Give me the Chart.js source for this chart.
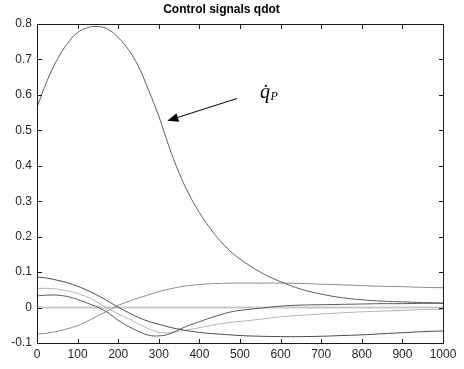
<!DOCTYPE html>
<html>
<head>
<meta charset="utf-8">
<script src="https://cdn.jsdelivr.net/npm/chart.js@4/dist/chart.umd.min.js"></script>
<style>
  html, body { margin: 0; padding: 0; background: #fff; }
  #wrap { width: 464px; height: 369px; }
</style>
</head>
<body>
<div id="wrap"><canvas id="chart"></canvas></div>
<script>
// sample times (x axis)
const tVals = [0, 25, 50, 75, 100, 125, 150, 175, 200, 225, 250, 275, 300, 325, 350, 375, 400, 425, 450, 475, 500,
  550, 600, 650, 700, 750, 800, 850, 900, 950, 1000];

// control signals
const qdotP = [0.565, 0.64, 0.70, 0.745, 0.776, 0.790, 0.793, 0.785, 0.762, 0.728, 0.68, 0.613, 0.54, 0.455, 0.38, 0.318, 0.268, 0.226, 0.19, 0.16, 0.137,
  0.10, 0.073, 0.052, 0.038, 0.028, 0.022, 0.018, 0.016, 0.014, 0.013];
const qdot1 = [0.086, 0.083, 0.077, 0.07, 0.06, 0.048, 0.034, 0.018, 0.001, -0.014, -0.028, -0.039, -0.047, -0.055, -0.061, -0.066, -0.07, -0.073, -0.075, -0.077, -0.079,
  -0.081, -0.082, -0.082, -0.081, -0.079, -0.077, -0.074, -0.071, -0.068, -0.066];
const qdot2 = [0.054, 0.054, 0.052, 0.047, 0.04, 0.029, 0.014, -0.003, -0.018, -0.031, -0.046, -0.06, -0.07, -0.071, -0.067, -0.062, -0.057, -0.051, -0.046, -0.042, -0.039,
  -0.033, -0.026, -0.022, -0.018, -0.015, -0.012, -0.01, -0.008, -0.006, -0.005];
const qdot3 = [0.033, 0.035, 0.035, 0.031, 0.023, 0.012, 0.001, -0.015, -0.036, -0.053, -0.067, -0.078, -0.08, -0.075, -0.062, -0.05, -0.04, -0.03, -0.021, -0.013, -0.008,
  -0.002, 0.004, 0.007, 0.008, 0.009, 0.01, 0.011, 0.011, 0.012, 0.012];
const qdot4 = [-0.075, -0.072, -0.067, -0.06, -0.051, -0.038, -0.023, -0.009, 0.006, 0.017, 0.027, 0.036, 0.045, 0.052, 0.058, 0.062, 0.065, 0.067, 0.068, 0.069, 0.069,
  0.069, 0.069, 0.068, 0.066, 0.064, 0.062, 0.06, 0.059, 0.057, 0.056];
const qdot5 = [0, 0, 0, 0, 0, 0, 0, 0, 0, 0, 0, 0, 0, 0, 0, 0, 0, 0, 0, 0, 0,
  0, 0, 0, 0, 0, 0, 0, 0, 0, 0];

const xTicks = [0, 100, 200, 300, 400, 500, 600, 700, 800, 900, 1000];
const yTicks = [-0.1, 0, 0.1, 0.2, 0.3, 0.4, 0.5, 0.6, 0.7, 0.8];

const toPts = ys => tVals.map((t, i) => ({ x: t, y: ys[i] }));

const line = (data, color, width) => ({
  data: toPts(data),
  borderColor: color,
  borderWidth: width || 1,
  pointRadius: 0,
  fill: false,
  tension: 0.4
});

// MATLAB style box, inward ticks and the arrow annotation
const boxPlugin = {
  id: 'boxPlugin',
  afterDraw(chart) {
    const ctx = chart.ctx;
    const a = chart.chartArea;
    const xs = chart.scales.x, ys = chart.scales.y;
    const len = 4;
    const L = Math.round(a.left), R = Math.round(a.right), T = Math.round(a.top), B = Math.round(a.bottom);
    ctx.save();
    ctx.fillStyle = '#1a1a1a';
    // frame
    ctx.fillRect(L, T, R - L + 1, 1);
    ctx.fillRect(L, B, R - L + 1, 1);
    ctx.fillRect(L, T, 1, B - T + 1);
    ctx.fillRect(R, T, 1, B - T + 1);
    // inward ticks
    xTicks.forEach(v => {
      const px = Math.round(xs.getPixelForValue(v));
      ctx.fillRect(px, B - len, 1, len);
      ctx.fillRect(px, T + 1, 1, len);
    });
    yTicks.forEach(v => {
      const py = Math.round(ys.getPixelForValue(v));
      ctx.fillRect(L + 1, py, len, 1);
      ctx.fillRect(R - len, py, len, 1);
    });

    // arrow pointing to qdot_P
    const opt = chart.options.plugins.boxPlugin;
    const x0 = xs.getPixelForValue(opt.from[0]), y0 = ys.getPixelForValue(opt.from[1]);
    const x1 = xs.getPixelForValue(opt.to[0]), y1 = ys.getPixelForValue(opt.to[1]);
    const ang = Math.atan2(y1 - y0, x1 - x0);
    const hl = 11, hw = 4.5;
    const bx = x1 - hl * Math.cos(ang), by = y1 - hl * Math.sin(ang);
    ctx.strokeStyle = '#000';
    ctx.lineWidth = 1;
    ctx.beginPath();
    ctx.moveTo(x0, y0); ctx.lineTo(bx, by);
    ctx.stroke();
    ctx.fillStyle = '#000';
    ctx.beginPath();
    ctx.moveTo(x1, y1);
    ctx.lineTo(bx + hw * Math.sin(ang), by - hw * Math.cos(ang));
    ctx.lineTo(bx - hw * Math.sin(ang), by + hw * Math.cos(ang));
    ctx.closePath();
    ctx.fill();

    // label q-dot with subscript P
    const tx = xs.getPixelForValue(opt.text[0]), ty = ys.getPixelForValue(opt.text[1]);
    ctx.textBaseline = 'alphabetic';
    ctx.textAlign = 'left';
    ctx.font = 'italic 20px "Liberation Serif", "DejaVu Serif", serif';
    ctx.fillText('q\u0307', tx, ty);
    const w = ctx.measureText('q').width;
    ctx.font = 'italic 12px "Liberation Serif", "DejaVu Serif", serif';
    ctx.fillText('P', tx + w + 0.5, ty + 1.5);
    ctx.restore();
  }
};

new Chart(document.getElementById('chart'), {
  type: 'line',
  data: {
    datasets: [
      line(qdotP, '#5e5e5e'),
      line(qdot1, '#4a4a4a'),
      line(qdot3, '#575757'),
      line(qdot2, '#b3b3b3'),
      line(qdot4, '#8a8a8a'),
      line(qdot5, '#c8c8c8', 2)
    ]
  },
  options: {
    responsive: true,
    maintainAspectRatio: false,
    animation: false,
    layout: { padding: { left: 0, right: 21, top: 0, bottom: 0 } },
    scales: {
      x: {
        type: 'linear',
        min: 0, max: 1000,
        grid: { display: false, drawTicks: false },
        border: { display: false },
        afterFit: s => { s.height = 26; },
        afterBuildTicks: s => { s.ticks = xTicks.map(v => ({ value: v })); },
        ticks: {
          padding: 4,
          maxRotation: 0,
          autoSkip: false,
          color: '#262626',
          font: { family: '"Liberation Sans", Arial, sans-serif', size: 12 },
          callback: v => String(v)
        }
      },
      y: {
        min: -0.1, max: 0.8,
        grid: { display: false, drawTicks: false },
        border: { display: false },
        afterFit: s => { s.width = 37; },
        afterBuildTicks: s => { s.ticks = yTicks.map(v => ({ value: v })); },
        ticks: {
          padding: 5,
          autoSkip: false,
          color: '#262626',
          font: { family: '"Liberation Sans", Arial, sans-serif', size: 12 },
          callback: v => String(Number(v.toFixed(1)))
        }
      }
    },
    plugins: {
      legend: { display: false },
      tooltip: { enabled: false },
      title: {
        display: true,
        text: 'Control signals qdot',
        color: '#000',
        font: { family: '"Liberation Sans", Arial, sans-serif', size: 12, weight: 'bold' },
        padding: { top: 2, bottom: 7.6 }
      },
      boxPlugin: {
        from: [493, 0.59],
        to: [321, 0.527],
        text: [549, 0.59]
      }
    }
  },
  plugins: [boxPlugin]
});
</script>
</body>
</html>
